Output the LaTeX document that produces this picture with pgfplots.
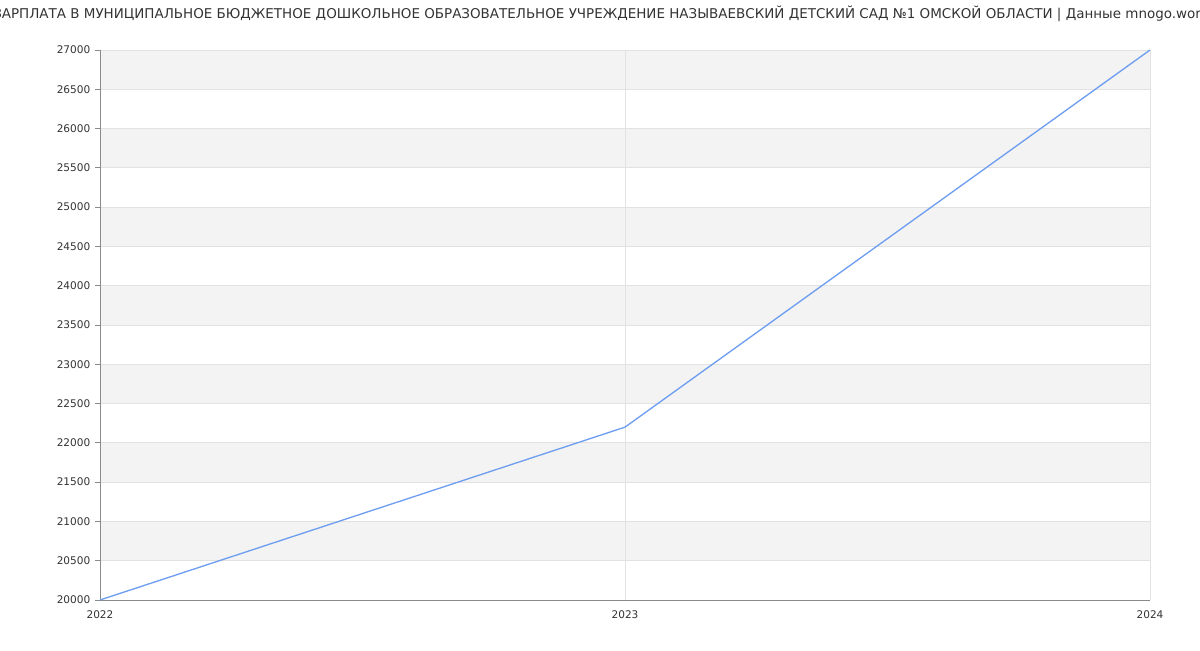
\documentclass[border=0pt]{standalone}
\usepackage{pgfplots}
\pgfplotsset{compat=1.18}
\usepackage{fontspec}
\setmainfont{DejaVu Sans}
\definecolor{bandgray}{HTML}{F3F3F3}
\definecolor{gridgray}{HTML}{E2E2E2}
\definecolor{axisgray}{HTML}{8A8A8A}
\definecolor{textgray}{HTML}{333333}
\definecolor{lineblue}{HTML}{6E9EF0}
\pgfplotsset{
  band/.style={fill=bandgray, draw=none, forget plot, mark=none},
  common/.style={at={(75pt,37.5pt)}, anchor=south west,
    scale only axis, width=787.5pt, height=412.5pt,
    xmin=2022, xmax=2024, ymin=20000, ymax=27000, clip=false},
}
\begin{document}
\begin{tikzpicture}[x=0.75pt,y=0.75pt]
\path[use as bounding box] (0,0) rectangle (1200,650);
\clip (0,0) rectangle (1200,650);
\begin{axis}[common, hide axis]
\addplot[band] coordinates {(2022,20500) (2024,20500) (2024,21000) (2022,21000)} --cycle;
\addplot[band] coordinates {(2022,21500) (2024,21500) (2024,22000) (2022,22000)} --cycle;
\addplot[band] coordinates {(2022,22500) (2024,22500) (2024,23000) (2022,23000)} --cycle;
\addplot[band] coordinates {(2022,23500) (2024,23500) (2024,24000) (2022,24000)} --cycle;
\addplot[band] coordinates {(2022,24500) (2024,24500) (2024,25000) (2022,25000)} --cycle;
\addplot[band] coordinates {(2022,25500) (2024,25500) (2024,26000) (2022,26000)} --cycle;
\addplot[band] coordinates {(2022,26500) (2024,26500) (2024,27000) (2022,27000)} --cycle;
\end{axis}
\begin{axis}[
  common,
  xtick={2022,2023,2024},
  ytick distance=500,
  scaled y ticks=false, scaled x ticks=false,
  /pgf/number format/1000 sep={},
  /pgf/number format/assume math mode=true,
  ticklabel style={font=\fontsize{7.9pt}{9pt}\selectfont, text=textgray},
  axis x line*=bottom, axis y line*=left,
  axis line style={axisgray, line width=0.7pt},
  x axis line style={-}, y axis line style={-},
  major tick length=3.75pt,
  xtick style={draw=none},
  ytick style={axisgray, line width=0.6pt},
  tick align=outside,
  grid=major,
  major grid style={gridgray, line width=0.6pt},
  xticklabel style={yshift=-1pt},
]
\addplot[lineblue, line width=1pt, mark=none] coordinates {
  (2022,20000) (2023,22200) (2024,27000)
};
\end{axis}
\node[text=textgray, font=\fontsize{10.1pt}{11pt}\selectfont] at (601,636) {ЗАРПЛАТА В МУНИЦИПАЛЬНОЕ БЮДЖЕТНОЕ ДОШКОЛЬНОЕ ОБРАЗОВАТЕЛЬНОЕ УЧРЕЖДЕНИЕ НАЗЫВАЕВСКИЙ ДЕТСКИЙ САД №1 ОМСКОЙ ОБЛАСТИ | Данные mnogo.work};
\end{tikzpicture}
\end{document}
